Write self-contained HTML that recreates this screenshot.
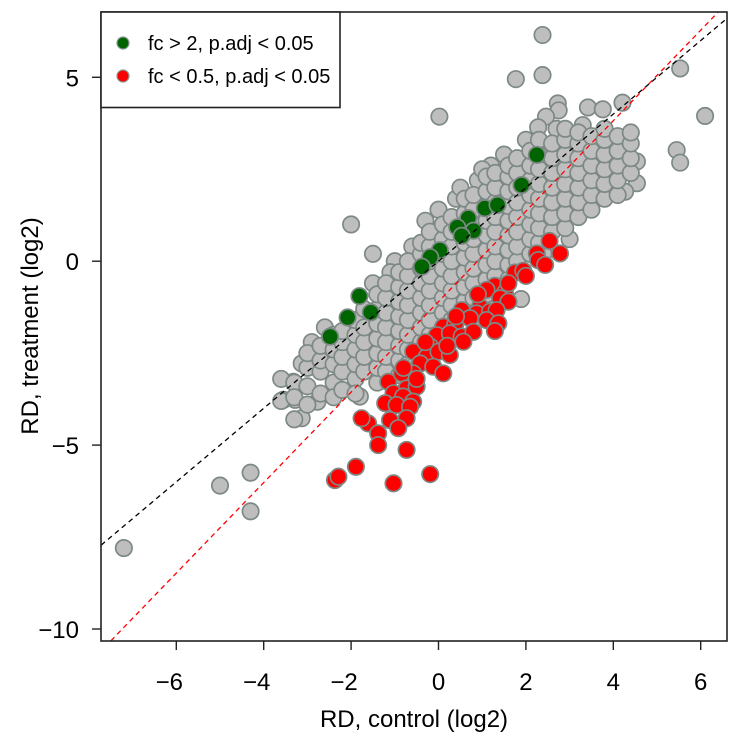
<!DOCTYPE html>
<html><head><meta charset="utf-8"><style>
html,body{margin:0;padding:0;background:#fff;}
svg{display:block;font-family:"Liberation Sans",Arial,sans-serif;}
</style></head><body>
<svg id="chart" width="730" height="740" viewBox="0 0 730 740" xmlns="http://www.w3.org/2000/svg">
<rect x="0" y="0" width="730" height="740" fill="#fff"/>
<g id="pts"></g>
<g id="lines"></g>
<g id="axes"></g>
<rect x="101" y="12" width="626" height="629" fill="none" stroke="#222" stroke-width="1.6"/>
<g id="legend">
<rect x="101" y="12" width="239" height="95.5" fill="#fff" stroke="#222" stroke-width="1.6"/>
<circle cx="123" cy="43" r="6" fill="#006400" stroke="#8a9590" stroke-width="1.2"/>
<text x="148" y="50" font-size="20" fill="#000">fc &gt; 2, p.adj &lt; 0.05</text>
<circle cx="123" cy="76" r="6" fill="#ff0000" stroke="#8a9590" stroke-width="1.2"/>
<text x="148" y="83" font-size="20" fill="#000">fc &lt; 0.5, p.adj &lt; 0.05</text>
</g>
<text x="414" y="727" font-size="24" text-anchor="middle">RD, control (log2)</text>
<text transform="translate(38,326) rotate(-90)" font-size="24" text-anchor="middle">RD, treatment (log2)</text>
</svg>
<script>
const xTicks = [-6, -4, -2, 0, 2, 4, 6];
const yTicks = [5, 0, -5, -10];
const xTickLabels = ["\u22126", "\u22124", "\u22122", "0", "2", "4", "6"];
const yTickLabels = ["5", "0", "\u22125", "\u221210"];
const identitySlope = 1, identityIntercept = 0;
const fitSlope = 1.23, fitIntercept = -1.1;
const grayPoints = [
[-7.2,-7.8],[-5.0,-6.1],[-4.3,-5.75],[-4.3,-6.8],[-2.0,1.0],[-1.5,0.2],[0.02,3.93],[2.38,6.15],[1.77,4.95],[2.38,5.06],
[5.53,5.24],[6.1,3.95],[5.45,3.02],[5.53,2.68],[2.73,4.29],[2.75,4.1],[3.42,4.18],[3.76,4.13],[4.21,4.31],[2.46,3.93],[2.28,3.64],
[4.54,2.71],[4.54,2.12],[4.27,1.89],[1.89,-1.03],[-3.13,-2.78],[-3.32,-3.28],[-3.55,-3.77],[-3.28,-3.77],[-3.13,-4.27],[-2.77,-3.82],[-1.80,-3.68],
[-1.0,0.0],[-0.6,0.4],[0.0,1.4],[0.4,1.7],[0.9,2.2],[1.2,2.6],[1.5,2.9],[2.0,3.3],[-1.5,-0.6],[-1.1,-0.3],[-0.3,1.1],
[0.5,2.0],[1.0,2.5],[2.7,3.6],[3.3,3.7],[-2.6,-1.8],[-2.9,-2.2],[1.5,-0.9],[2.4,0.2],[3.0,0.6],
[-3.6,-3.8],[-3.6,-3.2],[-3.3,-3.3],[-3.3,-4.3],[-3.3,-3.7],
[-3.0,-3.4],[-3.0,-2.9],[-3.0,-3.9],[-3.0,-2.5],
[-2.7,-3.0],[-2.7,-3.6],[-2.7,-2.7],[-2.7,-2.3],
[-2.4,-3.3],[-2.4,-2.8],[-2.4,-2.4],[-2.4,-3.7],[-2.4,-2.0],
[-2.2,-3.0],[-2.2,-2.6],[-2.2,-2.2],[-2.2,-3.5],[-2.2,-1.9],
[-1.9,-3.2],[-1.9,-2.8],[-1.9,-2.4],[-1.9,-2.0],[-1.9,-1.6],[-1.9,-3.6],
[-1.7,-3.0],[-1.7,-2.6],[-1.7,-2.2],[-1.7,-1.8],[-1.7,-1.3],
[-1.4,-3.3],[-1.4,-2.9],[-1.4,-2.5],[-1.4,-2.1],[-1.4,-1.7],[-1.4,-1.3],[-1.4,-0.9],
[-1.2,-3.0],[-1.2,-2.6],[-1.2,-2.2],[-1.2,-1.8],[-1.2,-1.4],[-1.2,-1.0],[-1.2,-0.6],
[-0.9,-3.1],[-0.9,-2.7],[-0.9,-2.3],[-0.9,-1.9],[-0.9,-1.5],[-0.9,-1.1],[-0.9,-0.7],[-0.9,-0.3],
[-0.7,-2.8],[-0.7,-2.4],[-0.7,-2.0],[-0.7,-1.6],[-0.7,-1.2],[-0.7,-0.8],[-0.7,-0.4],[-0.7,0.0],
[-0.4,-2.6],[-0.4,-2.2],[-0.4,-1.8],[-0.4,-1.4],[-0.4,-1.0],[-0.4,-0.6],[-0.4,-0.2],[-0.4,0.2],[-0.4,0.5],
[-0.2,-2.4],[-0.2,-2.0],[-0.2,-1.6],[-0.2,-1.2],[-0.2,-0.8],[-0.2,-0.4],[-0.2,0.0],[-0.2,0.4],[-0.2,0.8],
[0.1,-2.2],[0.1,-1.8],[0.1,-1.4],[0.1,-1.0],[0.1,-0.6],[0.1,-0.2],[0.1,0.2],[0.1,0.6],[0.1,1.0],
[0.3,-1.6],[0.3,-1.2],[0.3,-0.8],[0.3,-0.4],[0.3,0.0],[0.3,0.4],[0.3,0.8],[0.3,1.2],
[0.6,-1.5],[0.6,-1.1],[0.6,-0.7],[0.6,-0.3],[0.6,0.1],[0.6,0.5],[0.6,0.9],[0.6,1.3],[0.6,1.7],
[0.8,-1.0],[0.8,-0.6],[0.8,-0.2],[0.8,0.2],[0.8,0.6],[0.8,1.0],[0.8,1.4],[0.8,1.8],
[1.1,-0.9],[1.1,-0.5],[1.1,-0.1],[1.1,0.3],[1.1,0.7],[1.1,1.1],[1.1,1.5],[1.1,1.9],[1.1,2.3],
[1.3,-0.4],[1.3,0.0],[1.3,0.4],[1.3,0.8],[1.3,1.2],[1.3,1.6],[1.3,2.0],[1.3,2.4],
[1.6,-0.5],[1.6,-0.1],[1.6,0.3],[1.6,0.7],[1.6,1.1],[1.6,1.5],[1.6,1.9],[1.6,2.3],[1.6,2.6],
[1.8,0.0],[1.8,0.4],[1.8,0.8],[1.8,1.2],[1.8,1.6],[1.8,2.0],[1.8,2.4],[1.8,2.8],
[2.1,0.2],[2.1,0.6],[2.1,1.0],[2.1,1.4],[2.1,1.8],[2.1,2.2],[2.1,2.6],[2.1,3.0],
[2.3,0.5],[2.3,0.9],[2.3,1.3],[2.3,1.7],[2.3,2.1],[2.3,2.5],[2.3,2.9],[2.3,3.3],
[2.6,0.8],[2.6,1.2],[2.6,1.6],[2.6,2.0],[2.6,2.4],[2.6,2.8],[2.6,3.2],
[2.9,0.9],[2.9,1.3],[2.9,1.7],[2.9,2.1],[2.9,2.5],[2.9,2.9],[2.9,3.3],[2.9,3.6],
[3.2,1.2],[3.2,1.6],[3.2,2.0],[3.2,2.4],[3.2,2.8],[3.2,3.2],[3.2,3.5],
[3.5,1.4],[3.5,1.8],[3.5,2.2],[3.5,2.6],[3.5,3.0],[3.5,3.4],
[3.8,1.7],[3.8,2.1],[3.8,2.5],[3.8,2.9],[3.8,3.3],[3.8,3.6],
[4.1,1.8],[4.1,2.2],[4.1,2.6],[4.1,3.0],[4.1,3.4],
[4.4,2.4],[4.4,2.8],[4.4,3.2],[4.4,3.5]
];
const redPoints = [
[2.54,0.55],[2.78,0.21],[2.25,0.21],[2.28,0.03],[2.44,-0.10],[1.75,-0.31],[1.94,-0.26],
[1.29,-0.67],[1.10,-0.78],[1.52,-0.86],[1.41,-1.01],[1.60,-1.10],
[0.53,-1.33],[0.95,-1.24],[0.87,-1.42],[1.18,-1.37],[1.33,-1.33],[0.72,-1.55],[1.10,-1.60],[1.37,-1.69],[1.29,-1.90],
[0.11,-1.78],[0.38,-1.73],[-0.04,-2.01],[0.26,-1.96],[0.53,-2.05],[0.80,-1.92],[0.57,-2.19],
[-0.58,-2.46],[-0.19,-2.32],[-0.27,-2.60],[0.0,-2.46],[0.26,-2.55],[-0.42,-2.78],[-0.12,-2.87],[0.11,-3.05],[-0.58,-3.05],
[-1.15,-3.28],[-0.84,-3.05],[-0.73,-3.46],[-0.50,-3.41],[-1.03,-3.59],[-0.81,-3.68],[-0.58,-3.82],[-1.22,-3.86],[-0.96,-3.91],[-0.65,-3.96],
[-1.11,-4.32],[-0.73,-4.27],[-0.92,-4.54],[-1.61,-4.41],[-1.76,-4.27],[-1.38,-4.68],[-1.38,-5.00],[-0.73,-5.13],
[-1.89,-5.59],[-2.37,-5.95],[-2.29,-5.86],[-1.03,-6.04],[-0.19,-5.79],
[-0.3,-2.2],[0.2,-2.3],[-0.8,-2.9],[-0.5,-3.2],[0.4,-1.5],[0.9,-0.9],[1.6,-0.6],[2.0,-0.4]
];
const greenPoints = [
[2.25,2.89],[1.90,2.07],[1.06,1.44],[1.35,1.53],[0.68,1.17],[0.43,0.92],[0.80,0.83],[0.53,0.69],
[0.03,0.30],[-0.19,0.11],[-0.38,-0.15],[-1.81,-0.95],[-2.08,-1.53],[-1.55,-1.39],[-2.48,-2.05]
];

const X0 = 101, X1 = 727, Y0 = 12, Y1 = 641;
const xMin = -7.72, xMax = 6.6, yMin = -10.32, yMax = 6.78;
function sx(v){ return 438.5 + v * 43.7; }
function sy(v){ return 261.2 - v * 36.78; }
const NS = "http://www.w3.org/2000/svg";
function mk(tag, parent){ const e = document.createElementNS(NS, tag); parent.appendChild(e); return e; }

const axesG = document.getElementById('axes');
xTicks.forEach((t, i) => {
  const l = mk('line', axesG);
  
  
  l.setAttribute('x1', sx(t)); l.setAttribute('x2', sx(t));
  l.setAttribute('y1', Y1); l.setAttribute('y2', Y1 + 9);
  l.setAttribute('stroke', '#222'); l.setAttribute('stroke-width', '1.4');
  const tx = mk('text', axesG);
  
  
  tx.setAttribute('x', sx(t) - (t < 0 ? 7 : 0)); tx.setAttribute('y', 690);
  tx.setAttribute('font-size', '24'); tx.setAttribute('text-anchor', 'middle');
  tx.textContent = xTickLabels[i];
});
yTicks.forEach((t, i) => {
  const l = mk('line', axesG);
  
  
  l.setAttribute('x1', X0 - 9); l.setAttribute('x2', X0);
  l.setAttribute('y1', sy(t)); l.setAttribute('y2', sy(t));
  l.setAttribute('stroke', '#222'); l.setAttribute('stroke-width', '1.4');
  const tx = mk('text', axesG);
  
  
  tx.setAttribute('x', 79); tx.setAttribute('y', sy(t) + 9);
  tx.setAttribute('font-size', '24'); tx.setAttribute('text-anchor', 'end');
  tx.textContent = yTickLabels[i];
});

const ptsG = document.getElementById('pts');
function drawPts(arr, fill, name){
  arr.forEach(p => {
    const c = mk('circle', ptsG);
    
    
    c.setAttribute('cx', sx(p[0])); c.setAttribute('cy', sy(p[1]));
    c.setAttribute('r', '8.2');
    c.setAttribute('fill', fill); c.setAttribute('stroke', '#7d8985'); c.setAttribute('stroke-width', '1.7');
  });
}
drawPts(grayPoints, '#bebebe', 'gray-point');
drawPts(redPoints, '#ff0000', 'red-point');
drawPts(greenPoints, '#006400', 'green-point');

const linesG = document.getElementById('lines');
function drawLine(m, b, color, name){
  let p1 = [xMin, m*xMin + b], p2 = [xMax, m*xMax + b];
  if (p1[1] < yMin) p1 = [(yMin - b)/m, yMin];
  if (p2[1] > yMax) p2 = [(yMax - b)/m, yMax];
  const l = mk('line', linesG);
  
  
  l.setAttribute('x1', sx(p1[0])); l.setAttribute('y1', sy(p1[1]));
  l.setAttribute('x2', sx(p2[0])); l.setAttribute('y2', sy(p2[1]));
  l.setAttribute('stroke', color); l.setAttribute('stroke-width', '1.3');
  l.setAttribute('stroke-dasharray', '5 4');
}
drawLine(identitySlope, identityIntercept, '#000', 'identity-line');
drawLine(fitSlope, fitIntercept, '#ff0000', 'fit-line');
const svgRoot = document.getElementById('chart');
svgRoot.appendChild(document.getElementById('legend'));
</script>
</body></html>
